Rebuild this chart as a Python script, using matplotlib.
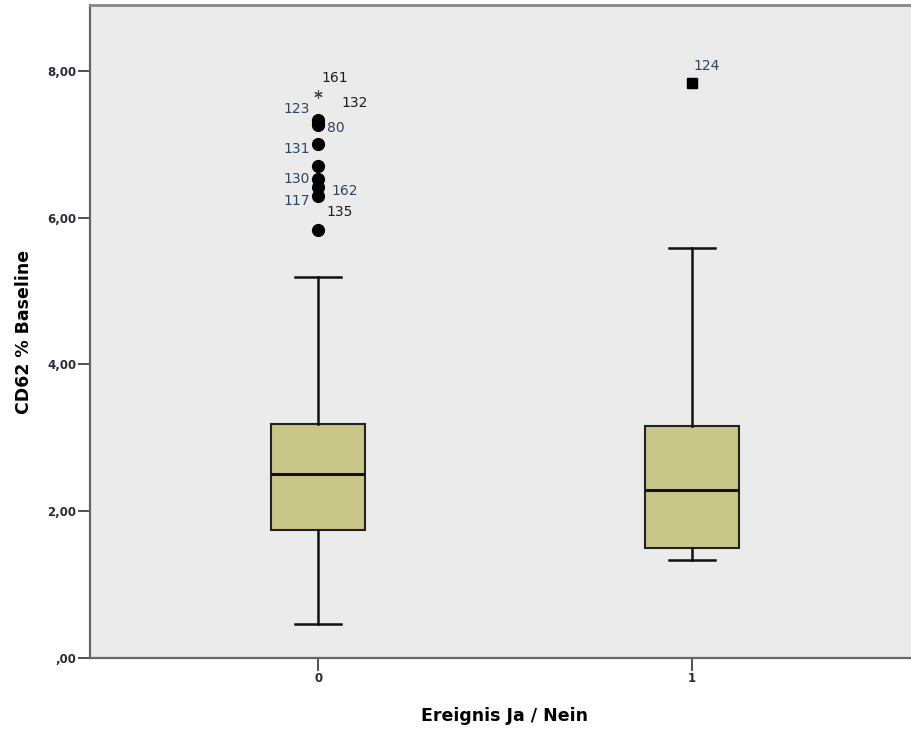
import numpy as np
import matplotlib
matplotlib.use("Agg")
import matplotlib.pyplot as plt

# box statistics
groups = ["0", "1"]
q1 = [1.75, 1.50]
med = [2.50, 2.29]
q3 = [3.19, 3.16]
whislo = [0.46, 1.34]
whishi = [5.19, 5.58]

# outliers (group index, value, case label, marker)
out_group = [0, 0, 0, 0, 0, 0, 0, 0, 0, 0, 1]
out_value = [7.69, 7.33, 7.29, 7.26, 7.00, 6.70, 6.53, 6.42, 6.30, 5.83, 7.84]
out_label = ["161", "132", "123", "80", "131", "", "130", "162", "117", "135", "124"]
out_marker = ["*", "o", "o", "o", "o", "o", "o", "o", "o", "o", "s"]
# label offsets in pixels (dx, dy)
lab_dx = [17, 37, -21, 18, -21, 0, -21, 27, -21, 22, 15]
lab_dy = [16, 17, 14, -3, -5, 0, 0, -4, -5, 18, 17]

fig = plt.figure(figsize=(9.12, 7.31), dpi=100)
ax = fig.add_axes([90 / 912, 1 - 658 / 731, (920 - 90) / 912, (658 - 5) / 731])
ax.set_facecolor("#EBEBEB")

stats = []
for i in range(len(groups)):
    stats.append(dict(med=med[i], q1=q1[i], q3=q3[i], whislo=whislo[i],
                      whishi=whishi[i], fliers=[]))

ax.bxp(stats, positions=[0, 1], widths=0.25, showfliers=False,
       patch_artist=True, capwidths=0.125,
       boxprops=dict(facecolor="#C9C689", edgecolor="#222222", linewidth=1.5),
       medianprops=dict(color="#111111", linewidth=2.2),
       whiskerprops=dict(color="#111111", linewidth=1.8),
       capprops=dict(color="#111111", linewidth=1.8))

for g, v, lab, m, dx, dy in zip(out_group, out_value, out_label, out_marker, lab_dx, lab_dy):
    if m == "*":
        ax.plot(g, v, marker=(6, 2, 0), markersize=6, color="#444444", mew=0.8)
    else:
        ax.plot(g, v, marker=m, markersize=8.5 if m == "o" else 7.5, color="black", linestyle="none")
    if lab:
        ax.annotate(lab, (g, v), xytext=(dx, dy), textcoords="offset pixels",
                    ha="center", va="center", fontsize=10, fontweight="medium",
                    color="#1c1c1c" if lab in ("161", "132", "135") else "#2e4460")

ax.set_xlim(-0.61, 1.61)
ax.set_ylim(0, (658 - 5) / 73.4)
ax.set_xticks([0, 1])
ax.set_xticklabels(groups)
yt = [0, 2, 4, 6, 8]
ax.set_yticks(yt)
ax.set_yticklabels([",00" if t == 0 else f"{t},00" for t in yt])
ax.tick_params(axis="both", direction="out", length=9, width=1.2, color="#333333",
               labelsize=8.5, labelcolor="#2a2a3a", pad=1)
for lbl in ax.get_yticklabels() + ax.get_xticklabels():
    lbl.set_fontweight("bold")

for s in ["left", "bottom"]:
    ax.spines[s].set_color("#666666")
    ax.spines[s].set_linewidth(1.6)
ax.spines["top"].set_color("#888888")
ax.spines["top"].set_linewidth(2)
ax.spines["right"].set_visible(False)

ax.set_ylabel("CD62 % Baseline", fontsize=12.5, fontweight="bold", labelpad=10)
ax.set_xlabel("Ereignis Ja / Nein", fontsize=12.5, fontweight="bold", labelpad=16)

fig.savefig("out.png", dpi=100)
